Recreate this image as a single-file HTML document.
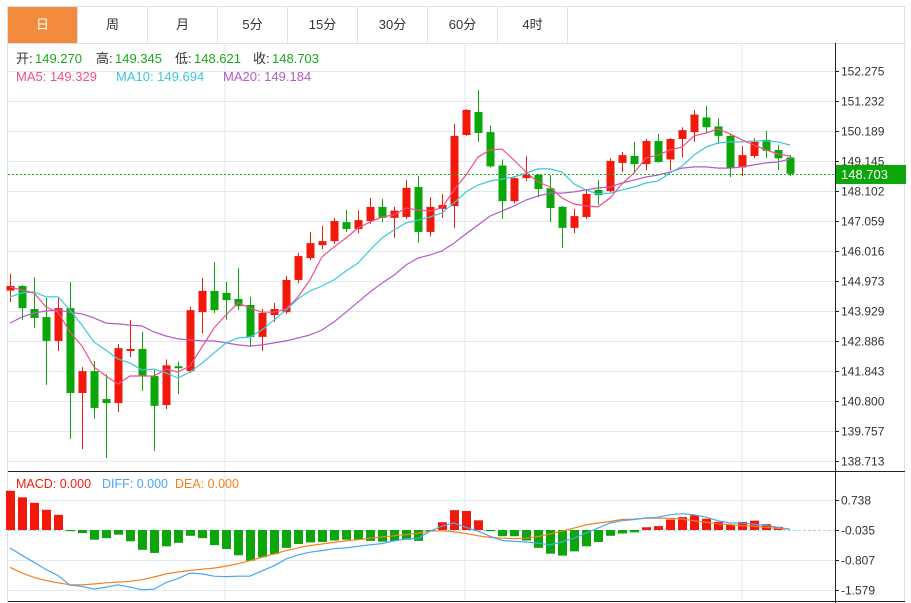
<!DOCTYPE html>
<html><head><meta charset="utf-8">
<style>
body{margin:0;background:#fff;width:911px;height:603px;overflow:hidden;font-family:"Liberation Sans","Noto Sans CJK SC",sans-serif;}
#wrap{position:absolute;left:7px;top:6px;width:898px;height:597px;border:1px solid #dde3ea;border-bottom:none;box-sizing:border-box;}
.tab{position:absolute;top:0;height:36px;width:70px;border-right:1px solid #dde3ea;box-sizing:border-box;text-align:center;line-height:36px;font-size:13px;color:#333;}
.tab.on{background:#f28c3c;color:#fff;}
#tabline{position:absolute;left:0;top:36px;width:898px;height:1px;background:#dde3ea;}
svg{position:absolute;left:0;top:0;}
</style></head><body>
<div id="wrap">
<div class="tab on" style="left:0">日</div>
<div class="tab" style="left:70px">周</div>
<div class="tab" style="left:140px">月</div>
<div class="tab" style="left:210px">5分</div>
<div class="tab" style="left:280px">15分</div>
<div class="tab" style="left:350px">30分</div>
<div class="tab" style="left:420px">60分</div>
<div class="tab" style="left:490px">4时</div>
<div id="tabline"></div>
</div>
<svg id="c" width="911" height="603"></svg>
<script>
const opens=[144.64,144.80,144.00,143.72,142.89,144.03,141.08,141.84,140.87,140.73,142.54,142.61,141.67,140.66,142.01,141.84,143.89,144.63,144.56,144.35,144.14,143.03,143.79,143.89,145.01,145.77,146.22,146.36,147.02,146.78,147.06,147.55,147.17,147.20,148.24,146.68,147.48,147.58,150.05,150.85,150.15,148.99,147.75,148.55,148.66,148.20,147.55,146.82,147.20,148.14,148.10,149.08,149.32,149.04,149.84,149.20,149.91,150.15,150.66,150.35,150.02,148.92,149.32,149.88,149.53,149.27];
const highs=[145.22,144.84,145.11,144.38,144.38,144.94,141.98,142.19,141.73,142.78,143.62,143.20,141.88,142.25,142.18,144.07,145.08,145.63,144.94,145.42,144.42,144.00,144.21,145.15,145.95,146.68,146.89,147.17,147.44,147.42,147.86,147.83,147.55,148.48,148.62,147.89,148.00,150.43,150.95,151.61,150.39,149.20,148.59,149.31,148.69,148.66,147.58,147.48,148.17,148.48,149.24,149.46,149.81,149.91,150.09,149.94,150.32,150.92,151.06,150.63,150.09,149.66,149.94,150.19,149.70,149.35];
const lows=[144.24,143.62,143.34,141.36,142.54,139.48,139.13,140.18,138.82,140.42,142.33,141.15,139.06,140.52,141.04,141.77,143.16,143.86,143.62,143.96,142.68,142.54,143.55,143.83,144.90,145.70,146.08,146.26,146.68,146.64,146.96,147.02,146.48,147.13,146.30,146.52,147.17,146.82,150.02,149.81,148.92,147.13,147.68,148.45,147.89,147.02,146.12,146.64,147.13,147.62,148.07,148.76,148.73,148.83,149.08,148.83,149.28,149.81,150.12,149.74,148.59,148.62,149.24,149.24,148.83,148.62];
const closes=[144.80,144.03,143.69,142.89,144.03,141.08,141.84,140.56,140.73,142.64,142.61,141.67,140.63,142.04,141.94,143.96,144.63,143.96,144.31,144.10,143.03,143.86,144.00,145.01,145.84,146.29,146.36,147.06,146.78,147.09,147.55,147.17,147.42,148.21,146.68,147.55,147.62,150.02,150.92,150.12,148.96,147.75,148.55,148.66,148.17,147.51,146.82,147.23,148.00,147.96,149.15,149.35,149.04,149.84,149.11,149.91,150.22,150.76,150.32,150.02,148.92,149.35,149.81,149.50,149.24,148.70];
const ma5=[144.76,144.66,144.56,144.07,143.89,143.20,142.71,141.98,141.67,141.39,141.67,141.67,141.67,141.91,141.81,142.02,142.68,143.34,143.79,144.21,144.03,143.89,143.89,144.00,144.42,145.01,145.81,146.16,146.47,146.82,147.02,147.20,147.27,147.51,147.44,147.41,147.51,148.14,148.66,149.28,149.53,149.56,149.18,148.76,148.42,148.24,147.86,147.65,147.58,147.55,147.86,148.35,148.73,149.25,149.35,149.53,149.63,150.02,150.12,150.26,150.09,149.88,149.70,149.53,149.39,149.32];
const ma10=[144.42,144.56,144.59,144.42,144.42,143.96,143.44,142.85,142.57,142.26,142.12,141.88,141.91,141.77,141.60,141.81,142.12,142.47,142.82,142.99,143.03,143.27,143.62,143.96,144.35,144.63,144.80,145.01,145.32,145.60,146.05,146.47,146.75,146.99,147.09,147.20,147.34,147.69,148.07,148.31,148.45,148.52,148.59,148.73,148.87,148.87,148.76,148.35,148.14,148.00,148.03,148.14,148.24,148.38,148.45,148.73,148.97,149.35,149.63,149.77,149.81,149.81,149.84,149.84,149.81,149.70];
const ma20=[143.51,143.72,143.86,143.93,143.96,143.89,143.83,143.69,143.51,143.48,143.44,143.41,143.20,143.06,142.96,142.92,142.89,142.89,142.82,142.75,142.71,142.75,142.82,142.89,142.99,143.10,143.27,143.55,143.89,144.24,144.59,144.90,145.18,145.53,145.77,145.88,146.02,146.29,146.61,146.92,147.23,147.41,147.58,147.79,147.93,148.03,148.03,148.07,148.14,148.21,148.24,148.38,148.48,148.59,148.66,148.76,148.90,148.94,148.94,148.90,148.90,148.94,149.01,149.08,149.11,149.22];
const macdHist=[1.01,0.84,0.70,0.52,0.39,-0.03,-0.08,-0.25,-0.21,-0.12,-0.29,-0.51,-0.59,-0.42,-0.33,-0.15,-0.21,-0.39,-0.49,-0.65,-0.79,-0.70,-0.62,-0.46,-0.36,-0.32,-0.31,-0.27,-0.25,-0.25,-0.28,-0.30,-0.28,-0.25,-0.28,-0.03,0.20,0.51,0.49,0.25,-0.03,-0.16,-0.16,-0.27,-0.46,-0.61,-0.66,-0.55,-0.42,-0.31,-0.15,-0.09,-0.06,0.07,0.10,0.27,0.33,0.38,0.29,0.21,0.14,0.21,0.24,0.15,0.08,0.00];
const diff=[-0.46,-0.65,-0.83,-1.02,-1.17,-1.42,-1.45,-1.52,-1.47,-1.41,-1.47,-1.54,-1.52,-1.35,-1.25,-1.11,-1.13,-1.19,-1.20,-1.19,-1.19,-1.05,-0.92,-0.75,-0.64,-0.57,-0.53,-0.48,-0.46,-0.42,-0.38,-0.35,-0.28,-0.23,-0.22,-0.03,0.10,0.18,0.07,-0.03,-0.16,-0.27,-0.29,-0.31,-0.34,-0.38,-0.31,-0.21,-0.08,0.05,0.18,0.24,0.27,0.31,0.33,0.39,0.42,0.39,0.33,0.24,0.18,0.18,0.15,0.12,0.07,0.02];
const dea=[-0.96,-1.11,-1.22,-1.30,-1.36,-1.41,-1.41,-1.39,-1.36,-1.34,-1.32,-1.28,-1.21,-1.13,-1.08,-1.04,-1.01,-0.98,-0.93,-0.87,-0.79,-0.70,-0.62,-0.53,-0.46,-0.40,-0.36,-0.32,-0.28,-0.25,-0.21,-0.18,-0.15,-0.12,-0.08,-0.03,-0.02,-0.05,-0.09,-0.15,-0.19,-0.21,-0.22,-0.21,-0.17,-0.10,-0.03,0.05,0.13,0.18,0.22,0.27,0.28,0.30,0.31,0.30,0.28,0.24,0.20,0.16,0.14,0.11,0.10,0.07,0.04,0.02];
const priceTicks=["152.275","151.232","150.189","149.145","148.102","147.059","146.016","144.973","143.929","142.886","141.843","140.800","139.757","138.713"];
const macdTicks=["0.738","-0.035","-0.807","-1.579"];
const lastPrice=148.703;

const NS="http://www.w3.org/2000/svg";
const svg=document.getElementById('c');
function mk(t,a,p){const e=document.createElementNS(NS,t);for(const k in a)e.setAttribute(k,a[k]);(p||svg).appendChild(e);return e;}
const PL=8,PR=835;
const xS=i=>10+12*i;
const yP=p=>71+(152.275-p)*28.76;
const yM=v=>530-v*38.86;
const yMT=t=>530-(t+0.035)*38.86;
const RED="#f2190a",GREEN="#0aa60a";

// grid
const grid=mk('g',{});


[225,465,742].forEach(x=>mk('line',{x1:x,x2:x,y1:43,y2:601,stroke:'#e3e9ef'},grid));
priceTicks.forEach(t=>{const y=Math.round(yP(+t))+0.5;mk('line',{x1:PL,x2:PR,y1:y,y2:y,stroke:'#e3e9ef'},grid);});
macdTicks.forEach(t=>{const y=Math.round(yMT(+t))+0.5;if(+t!==-0.035)mk('line',{x1:PL,x2:PR,y1:y,y2:y,stroke:'#e3e9ef'},grid);});

// axes
mk('line',{x1:PR+0.5,x2:PR+0.5,y1:43,y2:603,stroke:'#222'});
mk('line',{x1:PL,x2:905,y1:471.5,y2:471.5,stroke:'#222'});
mk('line',{x1:PL,x2:905,y1:601.5,y2:601.5,stroke:'#222'});
const pax=mk('g',{font_size:12});


priceTicks.forEach(t=>{const y=Math.round(yP(+t))+0.5;mk('line',{x1:PR,x2:PR+4,y1:y,y2:y,stroke:'#222'},pax);const tx=mk('text',{x:841,y:y+4,'font-size':12,fill:'#333'},pax);tx.textContent=t;});
const max=mk('g',{});


macdTicks.forEach(t=>{const y=Math.round(yMT(+t))+0.5;mk('line',{x1:PR,x2:PR+4,y1:y,y2:y,stroke:'#222'},max);const tx=mk('text',{x:841,y:y+4,'font-size':12,fill:'#333'},max);tx.textContent=t;});

// candles
const cg=mk('g',{});


opens.forEach((o,i)=>{
  const c=closes[i],col=c>=o?RED:GREEN,x=xS(i);
  const g=mk('g',{},cg);
  
  
  mk('line',{x1:x+0.5,x2:x+0.5,y1:yP(highs[i]),y2:yP(lows[i]),stroke:col},g);
  const t=Math.min(yP(o),yP(c)),h=Math.max(1.5,Math.abs(yP(o)-yP(c)));
  mk('rect',{x:x-3.5,y:t,width:8,height:h,fill:col},g);
});
// MAs
function line(arr,f,col,name){const d=arr.map((v,i)=>(i?'L':'M')+xS(i)+','+f(v).toFixed(1)).join('');const p=mk('path',{d:d,fill:'none',stroke:col,'stroke-width':1.2});}
line(ma20,yP,'#b35cc9','ma20-line');
line(ma10,yP,'#3cc8dc','ma10-line');
line(ma5,yP,'#f0508a','ma5-line');
// last price
mk('line',{x1:PL,x2:PR,y1:174.5,y2:174.5,stroke:'#1aaa1a','stroke-dasharray':'2,2'});
const lb=mk('rect',{x:836,y:165,width:70,height:19,fill:'#0aa60a'});


const lt=mk('text',{x:841,y:179,'font-size':13,fill:'#fff'});lt.textContent=lastPrice.toFixed(3);

// MACD
mk('line',{x1:PL,x2:PR,y1:530.5,y2:530.5,stroke:'#a9d4ec','stroke-dasharray':'3,2'});
const mg=mk('g',{});


macdHist.forEach((v,i)=>{if(v===0)return;const y0=yM(0),y1=yM(v);const r=mk('rect',{x:xS(i)-4,y:Math.min(y0,y1),width:9,height:Math.max(1,Math.abs(y1-y0)),fill:v>0?RED:GREEN},mg);});
line(dea,yM,'#f7801f','dea-line');
line(diff,yM,'#4aa6f0','diff-line');

// headers
function txt(x,y,s,col,name){const t=mk('text',{x:x,y:y,'font-size':13,fill:col});t.textContent=s;return t;}
const hy=63;
txt(16,hy,'开:','#333','open-label');txt(35,hy,'149.270','#1aa81a','open-value');
txt(96,hy,'高:','#333','high-label');txt(115,hy,'149.345','#1aa81a','high-value');
txt(175,hy,'低:','#333','low-label');txt(194,hy,'148.621','#1aa81a','low-value');
txt(253,hy,'收:','#333','close-label');txt(272,hy,'148.703','#1aa81a','close-value');
txt(16,81,'MA5: 149.329','#f0508a','ma5-legend');
txt(116,81,'MA10: 149.694','#3cc8dc','ma10-legend');
txt(223,81,'MA20: 149.184','#b35cc9','ma20-legend');
const my=488;
const m1=mk('text',{x:16,y:my,'font-size':12.5,fill:'#f2190a'});m1.textContent='MACD: 0.000';
const m2=mk('text',{x:102,y:my,'font-size':12.5,fill:'#4aa6f0'});m2.textContent='DIFF: 0.000';
const m3=mk('text',{x:175,y:my,'font-size':12.5,fill:'#f7801f'});m3.textContent='DEA: 0.000';
</script>
</body></html>
